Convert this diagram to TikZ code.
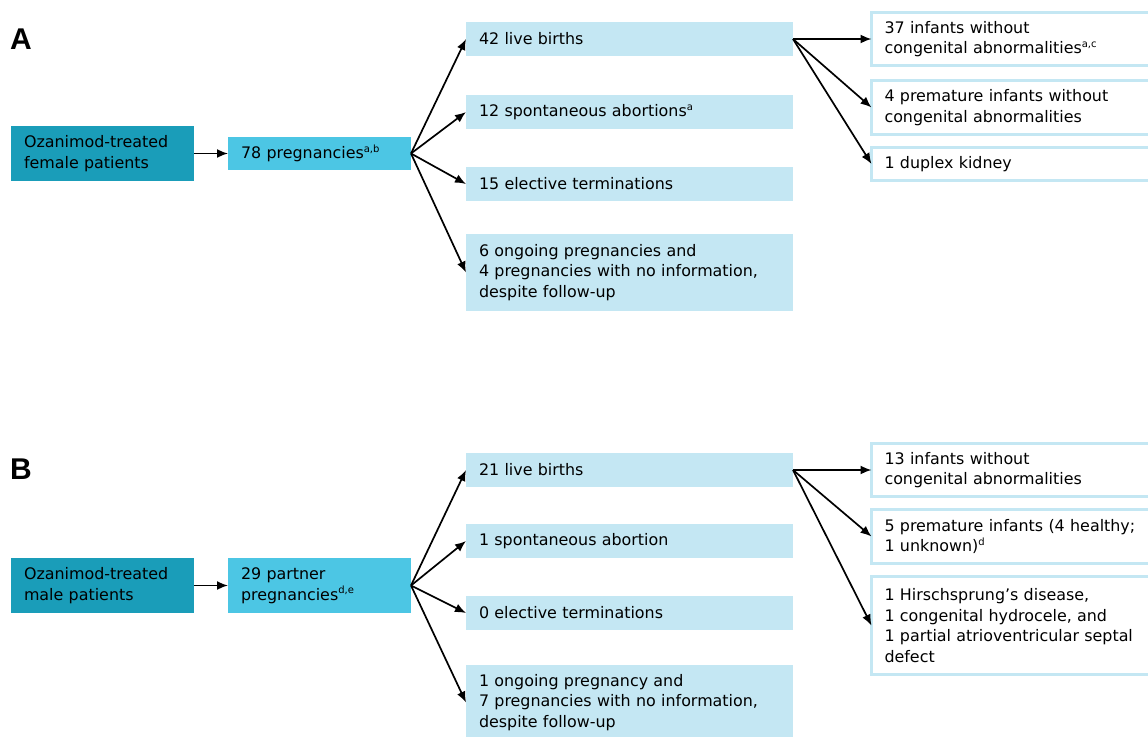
\documentclass[tikz,border=0pt]{standalone}
\usepackage{fontspec}
\setmainfont{DejaVu Sans}
\newfontfamily\labfont{Liberation Sans}
\usetikzlibrary{arrows.meta}
\definecolor{cdark}{HTML}{1A9DB9}
\definecolor{cmid}{HTML}{4CC6E4}
\definecolor{clight}{HTML}{C4E7F3}
\newcommand{\sups}[1]{\textsuperscript{\fontsize{10}{10}\selectfont #1}}
\begin{document}
\begin{tikzpicture}[x=1pt,y=-1pt,
  every node/.style={font=\fontsize{15.9}{20.5}\selectfont, text=black},
  bx/.style n args={2}{anchor=north west, minimum width=#1, minimum height=#2,
     text width=#1-26, inner xsep=13, inner ysep=0, align=left, outer sep=0},
  lbox/.style={fill=cdark},
  mbox/.style={fill=cmid},
  sbox/.style={fill=clight},
  rbox/.style={draw=clight, line width=3pt, fill=white, outer sep=1.5pt},
  lab/.style={font=\labfont\fontsize{30}{30}\selectfont\bfseries, anchor=north west, inner sep=0},
  arr/.style={-{Latex[length=11pt,width=9pt]}, line width=1.7pt, black}
]
\useasboundingbox (0,0) rectangle (1148,736);
\clip (0,0) rectangle (1148,736);

% ---------- A ----------
\node[lab] (labA) at (10,29) {A};
\node[lbox, bx={183}{55}] (fA) at (11,126) {Ozanimod-treated\\female patients};
\node[mbox, bx={183}{33}] (pA) at (228,137) {78 pregnancies\sups{a,b}};
\node[sbox, bx={327}{34}] (lbA) at (466,22) {42 live births};
\node[sbox, bx={327}{34}] (saA) at (466,95) {12 spontaneous abortions\sups{a}};
\node[sbox, bx={327}{34}] (etA) at (466,167) {15 elective terminations};
\node[sbox, bx={327}{77}] (ogA) at (466,234) {6 ongoing pregnancies and\\4 pregnancies with no information,\\despite follow-up};
\node[rbox, bx={300}{53}] (r1A) at (871.5,12.5) {37 infants without\\congenital abnormalities\sups{a,c}};
\node[rbox, bx={300}{54}] (r2A) at (871.5,80.5) {4 premature infants without\\congenital abnormalities};
\node[rbox, bx={300}{33}] (r3A) at (871.5,147.5) {1 duplex kidney};

\draw[arr] (fA.east) -- (pA.west);
\draw[arr] (pA.east) -- (lbA.west);
\draw[arr] (pA.east) -- (saA.west);
\draw[arr] (pA.east) -- (etA.west);
\draw[arr] (pA.east) -- (ogA.west);
\draw[arr] (lbA.east) -- (r1A.west);
\draw[arr] (lbA.east) -- (r2A.west);
\draw[arr] (lbA.east) -- (r3A.west);

% ---------- B ----------
\node[lab] (labB) at (10,459) {B};
\node[lbox, bx={183}{55}] (fB) at (11,558) {Ozanimod-treated\\male patients};
\node[mbox, bx={183}{55}] (pB) at (228,558) {29 partner\\pregnancies\sups{d,e}};
\node[sbox, bx={327}{34}] (lbB) at (466,453) {21 live births};
\node[sbox, bx={327}{34}] (saB) at (466,524) {1 spontaneous abortion};
\node[sbox, bx={327}{34}] (etB) at (466,596) {0 elective terminations};
\node[sbox, bx={327}{75}] (ogB) at (466,665) {1 ongoing pregnancy and\\7 pregnancies with no information,\\despite follow-up};
\node[rbox, bx={300}{53}] (r1B) at (871.5,443.5) {13 infants without\\congenital abnormalities};
\node[rbox, bx={300}{54}] (r2B) at (871.5,509.5) {5 premature infants (4 healthy;\\1 unknown)\sups{d}};
\node[rbox, bx={300}{98}] (r3B) at (871.5,576.5) {1 Hirschsprung’s disease,\\1 congenital hydrocele, and\\1 partial atrioventricular septal\\defect};

\draw[arr] (fB.east) -- (pB.west);
\draw[arr] (pB.east) -- (lbB.west);
\draw[arr] (pB.east) -- (saB.west);
\draw[arr] (pB.east) -- (etB.west);
\draw[arr] (pB.east) -- (ogB.west);
\draw[arr] (lbB.east) -- (r1B.west);
\draw[arr] (lbB.east) -- (r2B.west);
\draw[arr] (lbB.east) -- (r3B.west);
\end{tikzpicture}
\end{document}
